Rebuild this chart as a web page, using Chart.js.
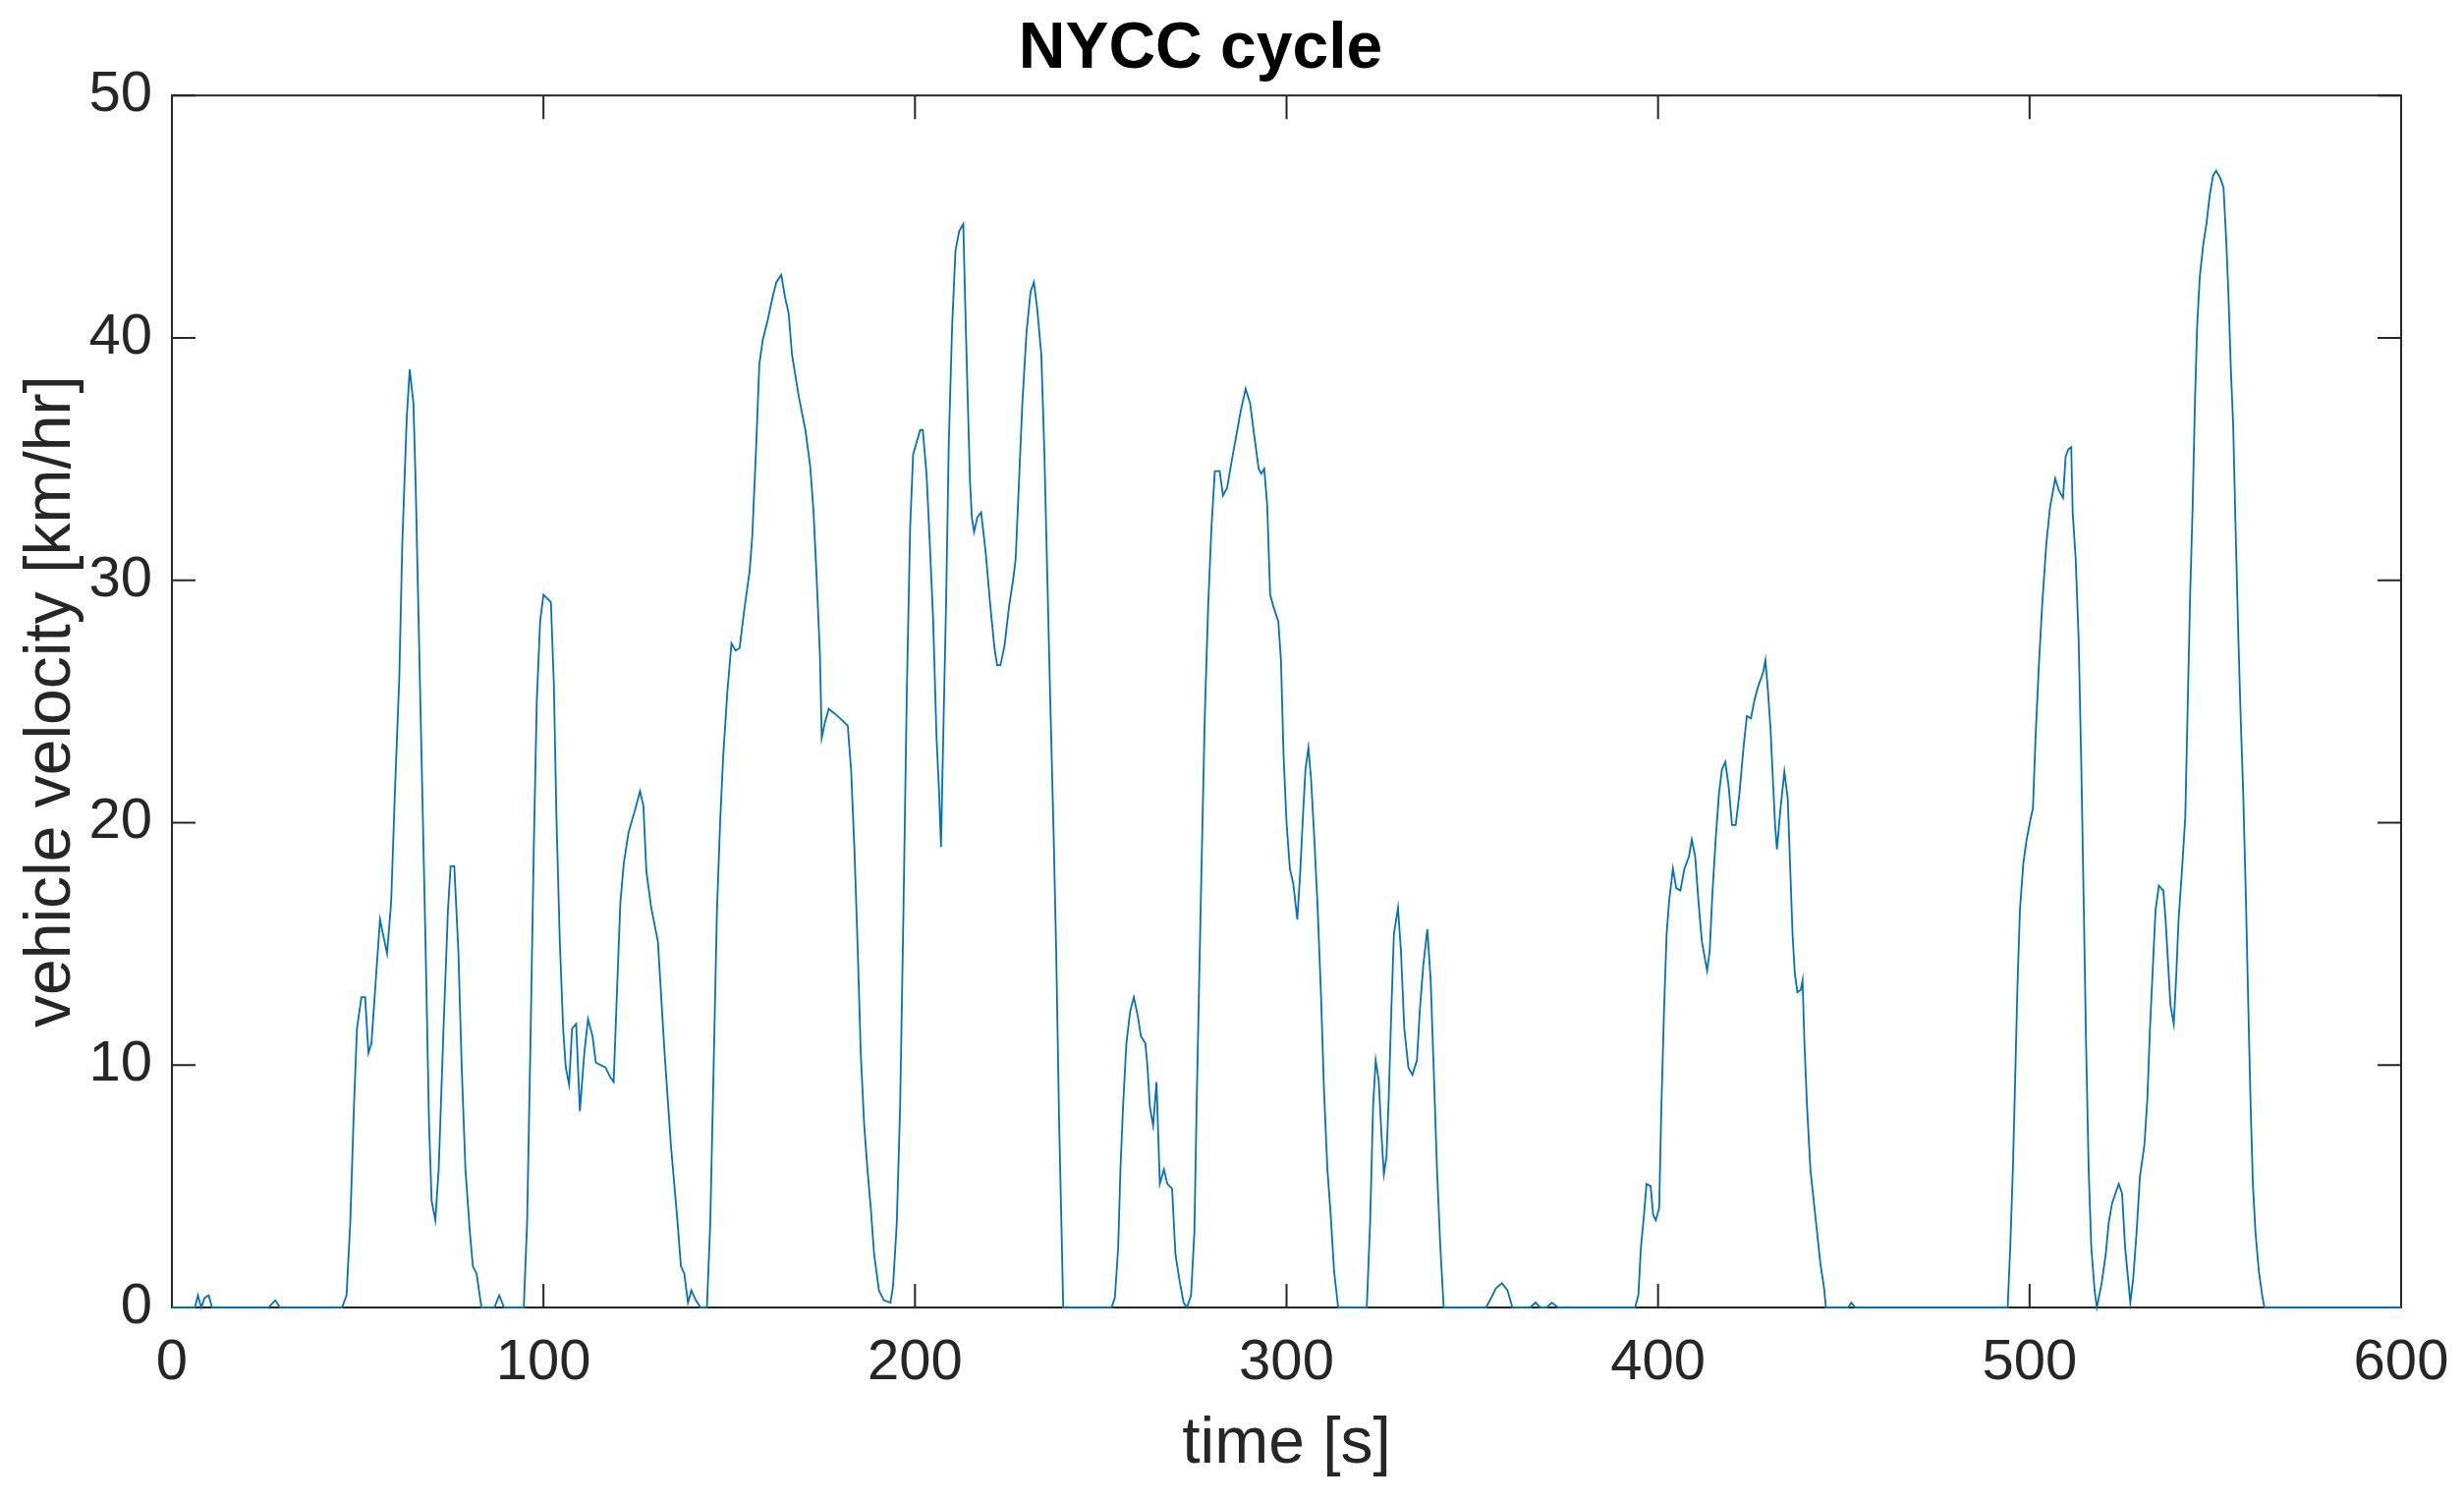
<!DOCTYPE html>
<html>
<head>
<meta charset="utf-8">
<title>NYCC cycle</title>
<script src="https://cdn.jsdelivr.net/npm/chart.js@4.4.1/dist/chart.umd.min.js"></script>
<style>
  html, body { margin: 0; padding: 0; background: #fff; }
  #wrap { width: 2508px; height: 1528px; }
</style>
</head>
<body>
<div id="wrap"><canvas id="myChart" width="2508" height="1528"></canvas></div>
<script>
// time [s] and speed [km/hr]
const times = [
  0, 6.2, 7, 7.9, 8.8, 9.9, 10.8, 26, 27.8, 29.1, 45.8, 47, 48, 49, 49.8, 51, 52, 52.9, 53.7, 55,
  56, 57.9, 59, 60, 61.2, 62, 63.2, 64, 65, 65.6, 66.5, 67.4, 68.3, 69.2, 69.9, 70.9, 71.8, 73.1, 74.3, 75,
  76, 77.1, 78, 79, 80.2, 81, 82, 83.3, 86.8, 88.1, 89.4, 94.7, 95.6, 96.5, 97.4, 98.2, 99.1, 100,
  102, 102.8, 103.5, 104.4, 105.3, 106, 106.9, 107.7, 108.8, 109.8, 111, 112, 113.2, 114.1, 116.7, 118, 118.9, 119.8, 120.7, 121.6,
  122.9, 124.6, 126, 126.9, 127.7, 129, 130.8, 132.6, 134.3, 136.1, 137, 137.9, 138.9, 139.8, 141, 142.3, 144, 144.9, 145.8, 146.7,
  147.6, 148.4, 149.5, 150.6, 151.7, 152.8, 153.9, 155.5, 156.2, 157.3, 158.1, 159, 160.3, 161.7, 162.7, 164, 165, 166, 166.9, 168.7,
  170.5, 171.8, 172.7, 173.5, 174.4, 174.9, 175.7, 176.8, 178.4, 180.6, 181.9, 182.8, 183.7, 184.6, 185.4, 186.3, 187.2, 188.1, 189, 190.3,
  191.6, 193.4, 194.1, 195.1, 196, 196.9, 197.8, 198.7, 199.5,
  201.4, 202.1, 203.1, 204, 204.9, 205.8, 206.5, 207, 207.5, 208.4, 209.1, 210, 210.9, 211.9, 213, 213.5, 214.1, 214.8, 215.3, 215.9,
  216.8, 217.8, 219, 220.3, 221.4, 222.1, 223, 224.1, 225.3, 226.5, 227.1, 228, 228.9, 230, 231.1, 232, 232.9, 234, 234.8, 235.5,
  236.4, 237.3, 238, 238.8, 239.4, 239.9, 252.9, 253.8, 254.7, 255.3, 256, 256.9, 257.9, 258.9, 260, 260.8, 262, 262.6, 263.2, 264.1,
  265, 265.5, 265.9, 267, 267.9, 269.2, 270.1, 271.1, 272.3, 273.2, 274.3, 275.2, 275.8, 276.4, 277.1, 278, 278.9, 279.8, 280.7, 282,
  282.9, 284, 285.1, 286.4, 287.7, 289, 290.2, 291.2, 292.5, 293.2, 294, 294.8, 295.6, 296.5, 297.8, 298.5, 299.2,
  300, 300.9, 301.8, 302.9, 303.7, 304.4, 305.1, 305.9, 306.6, 307.5, 308.4, 309.3, 310.1, 311, 311.9, 312.8, 313.9, 321.6, 322.5, 323.3,
  324, 324.8, 325.6, 326.2, 326.9, 327.5, 328.2, 328.9, 330, 330.8, 331.7, 332.8, 333.9, 335.1, 335.9, 336.8, 337.9, 338.8, 339.6, 340.5,
  341.4, 342.3, 353.7, 355.1, 356.4, 358, 359.5, 360.8, 365.6, 367, 368.3, 370, 371.4, 373.1, 393.8, 394.7, 395.4, 396.2, 396.9, 398,
  398.7, 399.4, 400.3, 400.9, 401.6, 402.3, 403, 404, 404.9, 406, 407.1, 408.3, 409.1, 410, 410.9, 411.8, 412.6, 413.2, 413.9, 414.6,
  415.5, 416.4, 417.2, 418.1, 419, 419.9, 420.9, 421.9, 423, 423.9, 425, 426, 427.1, 428.3, 428.9, 429.6, 430.3, 430.9, 431.5, 432,
  432.9, 434, 434.9, 435.6, 436.2, 436.8, 437.5, 438.4, 438.9, 439.4, 440.1, 441, 441.9, 442.8, 443.7, 444.6, 445.2, 451.2, 452, 453.1,
  494.1, 494.8, 495.5, 496.1, 496.7, 497.4, 498.3, 499.2, 500.2, 500.9, 501.6, 502.5, 503.4, 504.5, 505.5, 506.9, 507.9, 509, 509.7, 510.4,
  511.2, 511.6, 512.4, 513.2, 513.9, 514.6, 515.2, 515.9, 516.6, 517.5, 518.1, 519.4, 520.5, 521.3, 522.2, 523.1, 524, 524.9, 525.7, 526.5,
  527.1, 527.9, 528.8, 529.7, 530.9, 531.7, 532.4, 533.1, 533.9, 534.8, 536, 536.6, 537.2, 537.9, 538.8, 539.5, 540.1, 541, 541.9, 542.5,
  543.2, 543.9, 544.5, 545.1, 545.8, 546.7, 547.6, 548.5, 549.4, 550.2, 551.3, 552.2, 552.9, 553.5, 554.2, 554.8, 555.5, 556.2, 556.8, 557.5,
  558.2, 558.9, 559.5, 560.1, 560.8, 561.7, 562.6, 563.2, 600
];

const speeds = [
  0, 0, 0.5, 0, 0.4, 0.5, 0, 0, 0.3, 0, 0, 0.5, 3.5, 8.3, 11.5, 12.8, 12.8, 10.5, 10.9, 13.8,
  16.0, 14.6, 16.7, 21.2, 26, 31.5, 36.7, 38.7, 37.3, 34, 27.6, 21.2, 14.7, 7.6, 4.4, 3.6, 5.7, 11.5, 16.4, 18.2,
  18.2, 14.7, 9.9, 5.7, 3.1, 1.7, 1.4, 0, 0, 0.5, 0, 0, 3.5, 10.9, 19, 25, 28.3, 29.4,
  29.1, 25.7, 20.2, 15.1, 11.5, 9.9, 9.2, 11.5, 11.7, 8.1, 10.5, 11.9, 11.2, 10.1, 9.9, 9.5, 9.3, 13.1, 16.7, 18.3,
  19.6, 20.5, 21.3, 20.7, 18, 16.5, 15.1, 10.5, 6.7, 3.5, 1.7, 1.4, 0.2, 0.7, 0.3, 0, 0, 3.5, 9.9, 16.4,
  20.2, 22.8, 25.4, 27.4, 27.1, 27.2, 28.6, 30.4, 31.8, 35.7, 38.9, 39.9, 40.7, 41.7, 42.3, 42.6, 41.7, 41.0, 39.3, 37.6,
  36.2, 34.7, 32.8, 30.2, 27, 23.5, 24.1, 24.7, 24.5, 24.2, 24, 22.2, 18.9, 14.7, 10.5, 7.6, 5.7, 4.1, 2.2, 0.7,
  0.3, 0.2, 0.9, 3.5, 8.3, 16.4, 25.4, 32.2, 35.2,
  36.2, 36.2, 34.4, 31.5, 28.3, 23.5, 21.2, 19, 22.8, 29.3, 35.7, 40.5, 43.6, 44.4, 44.7, 41.5, 38, 34.1, 32.6, 32,
  32.6, 32.8, 31.2, 28.9, 27.2, 26.5, 26.5, 27.3, 28.9, 30.1, 30.9, 34.1, 37.3, 40.2, 41.9, 42.3, 41.2, 39.3, 35.4, 30.9,
  25.1, 19.6, 14.7, 7.6, 3.5, 0, 0, 0.4, 2.5, 5.7, 8.3, 10.9, 12.2, 12.8, 12, 11.2, 10.9, 9.9, 8.3, 7.5,
  9.3, 7.0, 5.1, 5.7, 5.1, 4.9, 2.2, 1.2, 0.2, 0, 0.5, 3.1, 8.3, 12.8, 18, 24.4, 28.9, 32.2, 34.5, 34.5,
  33.5, 33.8, 34.8, 35.9, 37, 37.9, 37.3, 36.1, 34.6, 34.4, 34.6, 33.1, 29.4, 28.9, 28.3, 26.7, 22.8,
  20, 18.1, 17.5, 16, 18, 20.2, 22.2, 23.1, 21.8, 19.3, 16.4, 12.8, 8.9, 5.7, 3.8, 1.5, 0, 0, 3.5, 8.3,
  10.2, 9.4, 7, 5.5, 6.2, 8.6, 12.2, 15.4, 16.5, 14.7, 11.5, 9.9, 9.6, 10.2, 12.3, 14.1, 15.6, 13.5, 9.9, 5.7,
  2.5, 0, 0, 0.4, 0.8, 1.0, 0.7, 0, 0, 0.2, 0, 0, 0.2, 0, 0, 0.5, 2.5, 3.8, 5.1, 5.0,
  3.8, 3.6, 4.1, 8.3, 12.2, 15.4, 16.8, 18.1, 17.3, 17.2, 18.1, 18.6, 19.3, 18.6, 16.7, 15.1, 14.4, 13.9, 14.7, 17,
  19.3, 21.2, 22.2, 22.5, 21.5, 19.9, 19.9, 21.2, 23.1, 24.4, 24.3, 25.1, 25.7, 26.2, 26.7, 25.4, 23.8, 21.8, 19.9, 18.9,
  20.5, 22.1, 21, 18, 15.4, 13.8, 13, 13.1, 13.5, 10.9, 8.3, 5.7, 4.4, 3.1, 1.8, 0.9, 0, 0, 0.2, 0,
  0, 2.5, 5.7, 9.3, 13.1, 16.4, 18.3, 19.3, 20.1, 20.6, 23.5, 26.5, 29, 31.5, 33, 34.2, 33.7, 33.4, 35.1, 35.4,
  35.5, 32.8, 30.9, 27.6, 22.5, 16.4, 10.9, 5.7, 2.5, 0.7, 0, 1, 2.2, 3.5, 4.3, 4.7, 5.1, 4.7, 2.5, 1.2,
  0.2, 1.2, 3.1, 5.4, 6.7, 8.6, 11.5, 13.8, 16.4, 17.4, 17.2, 16, 14.4, 12.5, 11.7, 13.8, 16, 18, 20.2, 24.4,
  29.3, 33.1, 37.3, 40.5, 42.5, 43.8, 44.7, 45.9, 46.7, 46.9, 46.6, 46.2, 44.1, 41.9, 38.6, 36.4, 31.8, 27.6, 24.4, 21.2,
  17, 12.2, 8.3, 5.1, 3.1, 1.5, 0.5, 0, 0
];

const xTicks = [0, 100, 200, 300, 400, 500, 600];
const yTicks = [0, 10, 20, 30, 40, 50];

const FONT = "'Liberation Sans', Arial, Helvetica, sans-serif";
const AXIS = '#262626';

// matlab style box with inward ticks on all four sides
const boxPlugin = {
  id: 'box',
  beforeDatasetsDraw(chart) {
    const { ctx, chartArea: a, scales } = chart;
    const len = 24;
    ctx.save();
    ctx.strokeStyle = AXIS;
    ctx.lineWidth = 2;
    ctx.strokeRect(a.left, a.top, a.right - a.left, a.bottom - a.top);
    ctx.beginPath();
    xTicks.forEach(v => {
      const px = scales.x.getPixelForValue(v);
      ctx.moveTo(px, a.bottom); ctx.lineTo(px, a.bottom - len);
      ctx.moveTo(px, a.top); ctx.lineTo(px, a.top + len);
    });
    yTicks.forEach(v => {
      const py = scales.y.getPixelForValue(v);
      ctx.moveTo(a.left, py); ctx.lineTo(a.left + len, py);
      ctx.moveTo(a.right, py); ctx.lineTo(a.right - len, py);
    });
    ctx.stroke();
    ctx.restore();
  }
};

const ctx = document.getElementById('myChart').getContext('2d');
const myChart = new Chart(ctx, {
  type: 'line',
  data: {
    datasets: [{
      label: 'NYCC',
      data: times.map((t, i) => ({ x: t, y: speeds[i] })),
      borderColor: '#0072BD',
      borderWidth: 1.8,
      pointRadius: 0,
      tension: 0,
      fill: false,
      clip: 4,
    }],
  },
  options: {
    responsive: false,
    animation: false,
    events: [],
    layout: { padding: { left: 0, right: 64, top: 0, bottom: 0 } },
    plugins: {
      legend: { display: false },
      tooltip: { enabled: false },
      title: {
        display: true,
        text: 'NYCC cycle',
        color: '#000000',
        font: { family: FONT, size: 66, weight: 'bold' },
        padding: { top: 11, bottom: 7 },
      },
    },
    scales: {
      x: {
        type: 'linear',
        min: 0,
        max: 600,
        afterBuildTicks: s => { s.ticks = xTicks.map(v => ({ value: v })); },
        afterFit: s => { s.height = 197; s.paddingLeft = 0; s.paddingRight = 0; },
        grid: { display: false, drawTicks: false, tickLength: 0 },
        border: { display: false },
        ticks: {
          color: AXIS,
          padding: 22,
          maxRotation: 0,
          font: { family: FONT, size: 58 },
        },
        title: {
          display: true,
          text: 'time [s]',
          color: AXIS,
          font: { family: FONT, size: 66 },
          padding: { top: 0, bottom: 18 },
        },
      },
      y: {
        type: 'linear',
        min: 0,
        max: 50,
        afterBuildTicks: s => { s.ticks = yTicks.map(v => ({ value: v })); },
        afterFit: s => { s.width = 175; s.paddingTop = 0; s.paddingBottom = 0; },
        grid: { display: false, drawTicks: false, tickLength: 0 },
        border: { display: false },
        ticks: {
          color: AXIS,
          padding: 20,
          font: { family: FONT, size: 58 },
        },
        title: {
          display: true,
          text: 'vehicle velocity [km/hr]',
          color: AXIS,
          font: { family: FONT, size: 66 },
          padding: { top: 13, bottom: 0 },
        },
      },
    },
  },
  plugins: [boxPlugin],
});
</script>
</body>
</html>
